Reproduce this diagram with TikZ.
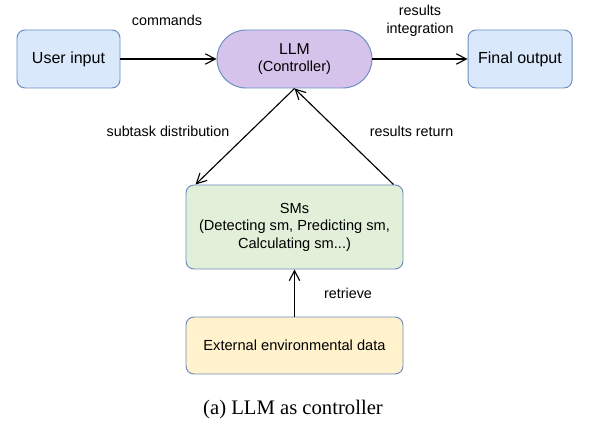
\documentclass[tikz,border=0pt]{standalone}
\usepackage{fontspec}
\setmainfont{Liberation Sans}
\newfontfamily\captionfont{Liberation Serif}
\usepackage{tikz}
\usepackage{xcolor}
\usetikzlibrary{positioning,arrows.meta}

\definecolor{boxline}{HTML}{6C8EBF}
\definecolor{inputfill}{HTML}{DAE8FC}
\definecolor{llmfill}{RGB}{213,195,235}
\definecolor{smfill}{RGB}{226,240,217}
\definecolor{datafill}{HTML}{FFF2CC}

\begin{document}
\begin{tikzpicture}[
    ->,
    >={Straight Barb[length=2.5mm,width=2.6mm]},
    line width=0.8pt,
    font=\fontsize{10.4}{12.5}\selectfont
]

\tikzstyle{block}=[
    rectangle,
    draw=boxline,
    line width=0.7pt,
    rounded corners=0.2cm,
    align=center,
    inner sep=2pt
]
\tikzstyle{edgelabel}=[
    font=\fontsize{10.2}{12.8}\selectfont,
    align=center
]

\useasboundingbox (0,0) rectangle (14.9,-10.775);

% top row
\node[block, fill=inputfill, minimum width=2.575cm, minimum height=1.45cm,
      font=\fontsize{11.4}{13}\selectfont] (user) at (1.7125,-1.475) {User input};
\node[block, fill=llmfill, rounded corners=0.725cm, minimum width=3.875cm,
      minimum height=1.45cm] (llm) at (7.3625,-1.475)
      {{\fontsize{11.2}{12.8}\selectfont LLM}\\ (Controller)};
\node[block, fill=inputfill, minimum width=2.6cm, minimum height=1.45cm,
      font=\fontsize{11.4}{13}\selectfont] (final) at (13.0,-1.475) {Final output};

% sub models and data
\node[block, fill=smfill, minimum width=5.425cm, minimum height=2.1cm] (sms) at (7.3625,-5.675)
      {SMs\\(Detecting sm, Predicting sm,\\Calculating sm...)};
\node[block, fill=datafill, minimum width=5.425cm, minimum height=1.425cm] (ext) at (7.3625,-8.6375)
      {External environmental data};

\draw (user.east) -- (llm.west);
\draw (llm.east) -- (final.west);
\draw (llm.south) -- ([xshift=0.25cm]sms.north west);
\draw ([xshift=-0.25cm]sms.north east) -- (llm.south);
\draw (ext.north) -- (sms.south);

\node[edgelabel] (cmdlabel) at (4.175,-0.5) {commands};
\node[edgelabel] (intlabel) at (10.5,-0.525) {results\\integration};
\node[edgelabel] (distlabel) at (4.2,-3.275) {subtask distribution};
\node[edgelabel] (retlabel) at (10.29,-3.275) {results return};
\node[edgelabel] (getlabel) at (8.7,-7.325) {retrieve};

\node[font=\captionfont\fontsize{14.7}{17}\selectfont] (caption) at (7.325,-10.25) {(a) LLM as controller};

\end{tikzpicture}
\end{document}
